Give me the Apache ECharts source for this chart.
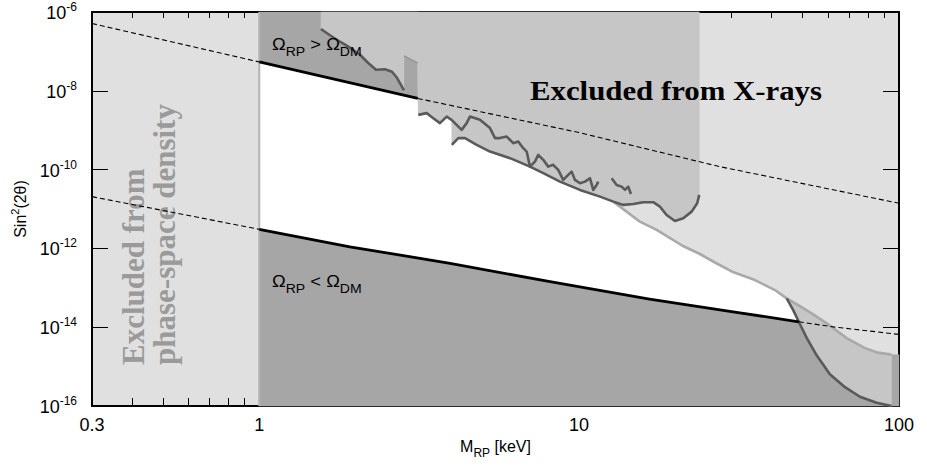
<!DOCTYPE html>
<html>
<head>
<meta charset="utf-8">
<title>Sterile neutrino bounds</title>
<script src="https://cdn.jsdelivr.net/npm/echarts@6.0.0/dist/echarts.min.js"></script>
<style>
  html, body { margin: 0; padding: 0; background: #fff; }
  #chart { width: 927px; height: 466px; }
</style>
</head>
<body>
<div id="chart"></div>
<script>
// axis ranges and ticks
const xMin = 0.3, xMax = 100;
const yMin = 1e-16, yMax = 1e-6;
const xTickLabels = [0.3, 1, 10, 100];
const xMajorTicks = [1, 10, 100];
const xMinorTicks = [0.4, 0.5, 0.6, 0.7, 0.8, 0.9, 2, 3, 4, 5, 6, 7, 8, 9, 20, 30, 40, 50, 60, 70, 80, 90];
const yTickExponents = [-16, -14, -12, -10, -8, -6];

// curves as [M_RP in keV, sin^2(2theta)]
const phaseSpaceLimit = 1;
const upperLine = [[0.3, 5.1e-7], [1, 5.4e-8], [3.13, 6.4e-9], [10, 8.7e-10], [27.5, 1.19e-10], [100, 1.4e-11]];
const lowerLine = [[0.3, 2.06e-11], [1, 3.05e-12], [1.92, 1.10e-12], [3.95, 4.18e-13], [8.11, 1.43e-13],
  [16.6, 5.18e-14], [30.3, 2.46e-14], [48.6, 1.37e-14], [62.3, 1.02e-14], [100, 6.56e-15]];

const xrayEdge = [[1.559, 3.70e-7], [1.664, 2.57e-7], [1.788, 1.76e-7], [1.921, 1.24e-7], [2.064, 8.2e-8],
  [2.187, 5.15e-8], [2.317, 3.42e-8], [2.472, 3.52e-8], [2.600, 3.04e-8], [2.695, 2.14e-8], [2.834, 1.02e-8]];
const xrayStep = [[2.834, 7.75e-8], [3.128, 5.06e-8]];
const xrayWiggle = [[3.142, 2.45e-9], [3.338, 2.71e-9], [3.499, 2.02e-9], [3.672, 1.51e-9], [3.854, 2.22e-9],
  [4.0, 1.8e-9], [4.293, 1.02e-9], [4.450, 1.51e-9], [4.557, 2.22e-9], [4.898, 1.83e-9], [5.264, 1.13e-9],
  [5.458, 6.3e-10], [5.657, 6.3e-10], [5.935, 6.9e-10], [6.224, 4.69e-10], [6.452, 5.15e-10], [6.688, 3.50e-10],
  [6.855, 2.87e-10], [7.019, 1.19e-10], [7.275, 1.60e-10], [7.450, 2.37e-10], [7.724, 1.77e-10], [8.006, 1.19e-10],
  [8.299, 1.32e-10], [8.603, 9.8e-11], [8.919, 5.47e-11], [9.247, 7.33e-11], [9.476, 8.89e-11], [9.705, 5.47e-11],
  [10.06, 4.51e-11], [10.43, 4.95e-11], [10.81, 6.04e-11], [11.07, 3.05e-11], [11.34, 4.08e-11], [11.48, 4.95e-11]];
const xrayLower = [[4.0, 4.25e-10], [4.190, 6.28e-10], [4.397, 6.28e-10], [4.783, 4.25e-10], [5.264, 2.87e-10],
  [6.079, 1.95e-10], [7.019, 1.19e-10], [7.724, 8.11e-11], [8.711, 4.95e-11], [10.06, 3.05e-11], [11.62, 2.06e-11],
  [12.79, 1.54e-11], [13.74, 1.27e-11], [14.77, 1.34e-11], [15.87, 1.49e-11], [17.05, 1.49e-11], [17.89, 1.15e-11],
  [18.77, 7.06e-12], [19.93, 4.97e-12], [21.16, 5.82e-12], [22.48, 8.57e-12], [23.40, 1.40e-11], [23.74, 2.28e-11]];
const xraySmall = [[12.64, 6.04e-11], [13.10, 4.08e-11], [13.58, 3.70e-11], [13.91, 3.05e-11], [14.24, 3.70e-11], [14.52, 2.41e-11]];

const decayCurve = [[12.79, 1.54e-11], [15.49, 4.77e-12], [17.47, 2.94e-12], [21.11, 1.15e-12], [23.86, 7.21e-13],
  [26.77, 4.26e-13], [30.27, 2.51e-13], [35.44, 1.57e-13], [40.94, 8.77e-14], [44.55, 5.4e-14], [49.0, 3.44e-14],
  [53.8, 2.15e-14], [59.9, 1.20e-14], [68.6, 5.28e-15], [78.3, 2.94e-15], [85.9, 2.26e-15], [94.8, 2.01e-15]];
const lateCurve = [[44.55, 5.4e-14], [46.7, 2.72e-14], [48.6, 1.37e-14], [51.5, 5.28e-15], [55.0, 2.07e-15],
  [60.8, 6.43e-16], [67.8, 3.01e-16], [75.5, 1.72e-16], [85.1, 1.21e-16], [94.8, 1.0e-16]];

const lg = Math.log10;
const toLog = p => [lg(p[0]), lg(p[1])];

const LIGHT = '#e0e0e0', MID = '#c6c6c6', DARK = '#a6a6a6', CURVE = '#5a5a5a';

// pieces of the two relic lines
const upperSolid = upperLine.slice(1, 3);
const lowerSolid = lowerLine.slice(1, 8);
const stepM = xrayLower[0][0];
const decayStart = decayCurve[0][0];
const lateStart = lateCurve[0][0];
const lowerEnd = lowerSolid[lowerSolid.length - 1][0];
const wiggleEdge = xrayWiggle.filter(p => p[0] <= stepM);

const allowedRegion = [].concat(
  upperSolid,
  wiggleEdge,
  xrayLower.filter(p => p[0] <= decayStart),
  decayCurve.filter(p => p[0] > decayStart && p[0] <= lateStart),
  lateCurve.filter(p => p[0] > lateStart && p[0] <= lowerEnd),
  lowerSolid.slice().reverse()
);
const overRegion = [].concat([[phaseSpaceLimit, yMax]], upperSolid, [[upperSolid[1][0], yMax]]);
const underRegion = [].concat(
  [[phaseSpaceLimit, yMin]],
  lowerSolid,
  decayCurve.filter(p => p[0] > lowerEnd),
  [[xMax, decayCurve[decayCurve.length - 1][1]], [xMax, yMin]]
);
const xrayRegion = [].concat(
  [[xrayEdge[0][0], yMax]], xrayEdge, xrayStep, wiggleEdge, xrayLower,
  [[xrayLower[xrayLower.length - 1][0], yMax]]
);
const lateRegion = [].concat(decayCurve.filter(p => p[0] >= lateStart), lateCurve.slice().reverse());

function area(pts, color) {
  return {
    type: 'custom',
    coordinateSystem: 'cartesian2d',
    silent: true,
    z: 1,
    data: [toLog(pts[0])],
    renderItem: function (params, api) {
      return {
        type: 'polygon',
        shape: { points: pts.map(p => api.coord(toLog(p))) },
        style: { fill: color, stroke: color, lineWidth: 0.5 }
      };
    }
  };
}

function curve(pts, color, width, dash) {
  return {
    type: 'line',
    data: pts.map(toLog),
    symbol: 'none',
    silent: true,
    z: 3,
    lineStyle: { color: color, width: width, type: dash || 'solid', join: 'round' }
  };
}

const font = 'Liberation Sans';
const tickStyle = { color: '#000', width: 1 };

function xAxis(position, ticks, len, opts) {
  return Object.assign({
    type: 'value',
    position: position,
    min: lg(xMin),
    max: lg(xMax),
    splitLine: { show: false },
    axisLine: { show: false, onZero: false },
    axisTick: { inside: true, length: len, customValues: ticks.map(lg), lineStyle: tickStyle },
    axisLabel: { show: false }
  }, opts || {});
}

let chart = echarts.init(document.getElementById('chart'), null, { renderer: 'svg' });

let option = {
  animation: false,
  backgroundColor: '#fff',
  grid: {
    left: 92, right: 28, top: 12, bottom: 60,
    show: true, backgroundColor: LIGHT, borderWidth: 0,
    outerBoundsMode: 'none'
  },
  xAxis: [
    xAxis('bottom', xMajorTicks, 16, {
      axisLine: { show: true, onZero: false, lineStyle: { color: '#000', width: 2 } },
      axisLabel: {
        show: true,
        customValues: xTickLabels.map(lg),
        formatter: v => String(Math.round(Math.pow(10, v) * 10) / 10),
        color: '#000', fontSize: 18, fontFamily: font, margin: 10
      },
      name: '{m|M}{s|RP}{m| [keV]}',
      nameLocation: 'middle',
      nameGap: 34,
      nameTextStyle: {
        color: '#000',
        rich: {
          m: { fontSize: 16, fontFamily: font, color: '#000', lineHeight: 18, padding: [0, 0, 4, 0], verticalAlign: 'bottom' },
          s: { fontSize: 12, fontFamily: font, color: '#000', lineHeight: 14, verticalAlign: 'bottom' }
        }
      }
    }),
    xAxis('bottom', xMinorTicks, 8),
    xAxis('top', xMajorTicks, 14, {
      axisLine: { show: true, onZero: false, lineStyle: { color: '#000', width: 2 } }
    }),
    xAxis('top', xMinorTicks, 6)
  ],
  yAxis: [
    {
      type: 'value',
      position: 'left',
      min: -16,
      max: -6,
      splitLine: { show: false },
      axisLine: { show: true, onZero: false, lineStyle: { color: '#000', width: 2 } },
      axisTick: { inside: true, length: 16, customValues: yTickExponents, lineStyle: tickStyle },
      axisLabel: {
        customValues: yTickExponents,
        margin: 15,
        formatter: v => '{b|10}{s|' + v + '}',
        rich: {
          b: { fontSize: 18, fontFamily: font, color: '#000', lineHeight: 20, verticalAlign: 'bottom' },
          s: { fontSize: 12, fontFamily: font, color: '#000', lineHeight: 13, padding: [0, 0, 9, 0], verticalAlign: 'bottom' }
        }
      },
      name: '{b|Sin}{s|2}{b|(2θ)}',
      nameLocation: 'middle',
      nameRotate: 90,
      nameGap: 64,
      nameTextStyle: {
        color: '#000',
        rich: {
          b: { fontSize: 16, fontFamily: font, color: '#000', lineHeight: 18, verticalAlign: 'bottom' },
          s: { fontSize: 11, fontFamily: font, color: '#000', lineHeight: 12, padding: [0, 0, 8, 0], verticalAlign: 'bottom' }
        }
      }
    },
    {
      type: 'value',
      position: 'right',
      min: -16,
      max: -6,
      splitLine: { show: false },
      axisLine: { show: true, onZero: false, lineStyle: { color: '#000', width: 2 } },
      axisTick: { inside: true, length: 16, customValues: yTickExponents, lineStyle: tickStyle },
      axisLabel: { show: false }
    }
  ],
  series: [
    area(allowedRegion, '#fff'),
    area(overRegion, DARK),
    area(underRegion, DARK),
    area(xrayRegion, MID),
    area(lateRegion, MID),
    curve([[phaseSpaceLimit, yMin], [phaseSpaceLimit, yMax]], '#b4b4b4', 2),
    curve(decayCurve, '#a9a9a9', 2.6),
    curve(xrayStep, '#8e8e8e', 1.2),
    curve(xrayEdge, CURVE, 2.6),
    curve(xrayWiggle, CURVE, 2.6),
    curve(xrayLower, CURVE, 2.6),
    curve(xraySmall, CURVE, 2.6),
    curve(lateCurve, CURVE, 2.6),
    curve(upperLine.slice(0, 2), '#000', 1.1, [5, 3]),
    curve(upperLine.slice(2), '#000', 1.1, [5, 3]),
    curve(lowerLine.slice(0, 2), '#000', 1.1, [5, 3]),
    curve(lowerLine.slice(7), '#000', 1.1, [5, 3]),
    curve(upperSolid, '#000', 2.8),
    curve(lowerSolid, '#000', 2.8)
  ],
  graphic: [
    {
      type: 'text', x: 530, y: 90.5, scaleX: 1.1, z: 2, silent: true,
      style: { text: 'Excluded from X-rays', font: 'bold 28px "Liberation Serif"', fill: '#000', align: 'left', verticalAlign: 'middle' }
    },
    {
      type: 'text', x: 133, y: 365, rotation: Math.PI / 2, z: 2, silent: true,
      style: { text: 'Excluded from', font: 'bold 31px "Liberation Serif"', fill: '#9a9a9a', align: 'left', verticalAlign: 'middle' }
    },
    {
      type: 'text', x: 164.5, y: 365, rotation: Math.PI / 2, z: 2, silent: true,
      style: { text: 'phase-space density', font: 'bold 31px "Liberation Serif"', fill: '#9a9a9a', align: 'left', verticalAlign: 'middle' }
    },
    {
      type: 'text', x: 272, y: 39.5, scaleX: 1.08, z: 4, silent: true,
      style: {
        text: '{o|Ω}{s|RP}{o| > Ω}{s|DM}', align: 'left', verticalAlign: 'top', fill: '#000',
        rich: {
          o: { fontSize: 17, fontFamily: font, fill: '#000', lineHeight: 19, padding: [0, 0, 6, 0], verticalAlign: 'bottom' },
          s: { fontSize: 13, fontFamily: font, fill: '#000', lineHeight: 15, verticalAlign: 'bottom' }
        }
      }
    },
    {
      type: 'text', x: 272, y: 276.5, scaleX: 1.08, z: 4, silent: true,
      style: {
        text: '{o|Ω}{s|RP}{o| < Ω}{s|DM}', align: 'left', verticalAlign: 'top', fill: '#000',
        rich: {
          o: { fontSize: 17, fontFamily: font, fill: '#000', lineHeight: 19, padding: [0, 0, 6, 0], verticalAlign: 'bottom' },
          s: { fontSize: 13, fontFamily: font, fill: '#000', lineHeight: 15, verticalAlign: 'bottom' }
        }
      }
    }
  ]
};

chart.setOption(option);
</script>
</body>
</html>
